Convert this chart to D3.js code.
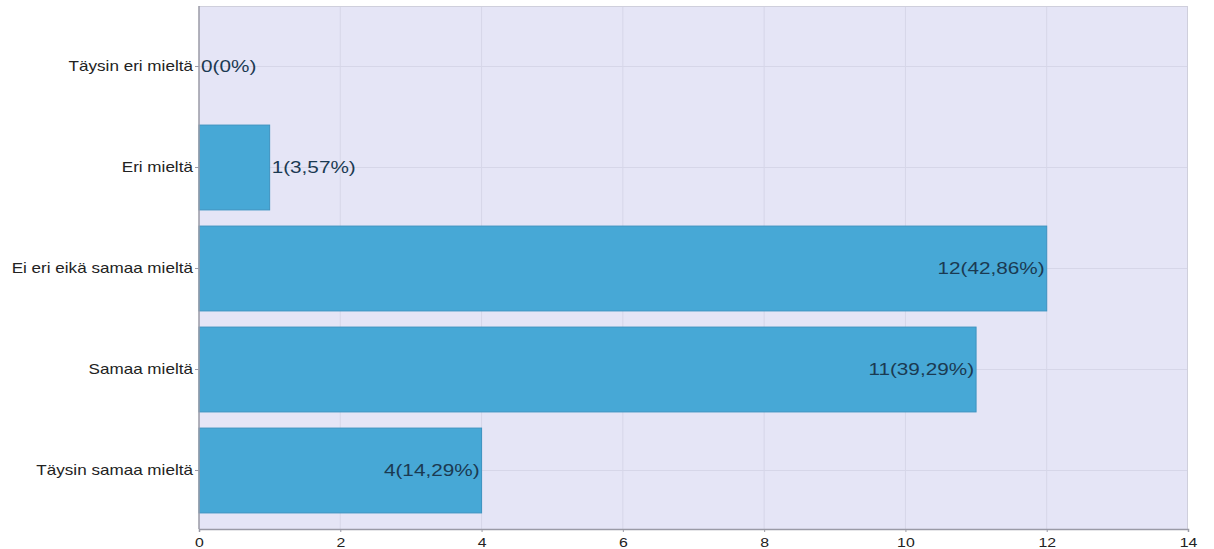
<!DOCTYPE html>
<html>
<head>
<meta charset="utf-8">
<script src="https://cdn.jsdelivr.net/npm/d3@7"></script>
<style>
  html, body { margin: 0; padding: 0; background: #ffffff; }
  svg { display: block; }
  text { font-family: "Liberation Sans", Arial, sans-serif; }
</style>
</head>
<body>
<svg id="chart" width="1214" height="549"></svg>
<script>
// Survey answers and counts
const categories = ["Täysin eri mieltä", "Eri mieltä", "Ei eri eikä samaa mieltä", "Samaa mieltä", "Täysin samaa mieltä"];
const counts = [0, 1, 12, 11, 4];
const percentLabels = ["0%", "3,57%", "42,86%", "39,29%", "14,29%"];
const xTicks = [0, 2, 4, 6, 8, 10, 12, 14];

const svg = d3.select("#chart");
const plotLeft = 199, plotRight = 1188, plotTop = 6, plotBottom = 529;
const stretch = 1.22; // wide lettering

const x = d3.scaleLinear().domain([0, 14]).range([plotLeft, plotRight]);
const y = d3.scaleBand().domain(categories).range([plotTop + 10, plotBottom - 8]).paddingInner(0.16).paddingOuter(0.08);

// plot background
svg.append("rect")
  .attr("x", plotLeft).attr("y", plotTop)
  .attr("width", plotRight - plotLeft).attr("height", plotBottom - plotTop)
  .attr("fill", "#e5e5f6");

// grid lines
const grid = svg.append("g");
grid.selectAll("line.v").data(xTicks.slice(1, -1)).join("line")
  .attr("class", "v")
  .attr("x1", d => x(d)).attr("x2", d => x(d))
  .attr("y1", plotTop).attr("y2", plotBottom)
  .attr("stroke", "#d6d6e8").attr("stroke-width", 1);
grid.selectAll("line.h").data(categories).join("line")
  .attr("class", "h")
  .attr("x1", plotLeft).attr("x2", plotRight)
  .attr("y1", d => y(d) + y.bandwidth() / 2).attr("y2", d => y(d) + y.bandwidth() / 2)
  .attr("stroke", "#d6d6e8").attr("stroke-width", 1);

// frame: top and right edges
svg.append("line").attr("x1", plotLeft).attr("x2", plotRight).attr("y1", plotTop + 0.5).attr("y2", plotTop + 0.5)
  .attr("stroke", "#cfcfdc");
svg.append("line").attr("x1", plotRight - 0.5).attr("x2", plotRight - 0.5).attr("y1", plotTop).attr("y2", plotBottom)
  .attr("stroke", "#cfcfdc");

// bars
svg.append("g").selectAll("rect").data(counts).join("rect")
  .attr("x", x(0))
  .attr("y", (d, i) => y(categories[i]))
  .attr("width", d => x(d) - x(0))
  .attr("height", y.bandwidth())
  .attr("fill", "#47a8d6")
  .attr("stroke", d => d > 0 ? "#3d93c0" : "none")
  .attr("stroke-width", 1);

// value labels: inside end when wide enough, else outside
const inside = d => (x(d) - x(0) > 150);
svg.append("g").selectAll("g").data(counts).join("g")
  .attr("transform", (d, i) => `translate(${inside(d) ? x(d) - 2 : x(d) + 2},${y(categories[i]) + y.bandwidth() / 2})`)
  .append("text")
  .attr("transform", `scale(${stretch},1)`)
  .attr("dy", "0.35em")
  .attr("text-anchor", d => inside(d) ? "end" : "start")
  .attr("font-size", 17)
  .attr("fill", "#1b3a52")
  .text((d, i) => `${d}(${percentLabels[i]})`);

// x axis
const xAxis = svg.append("g").attr("transform", `translate(0,${plotBottom})`)
  .call(d3.axisBottom(x).tickValues(xTicks).tickSize(3).tickFormat(d3.format("d")));
xAxis.select(".domain").attr("stroke", "#9a9aa6").attr("stroke-width", 1.5);
xAxis.selectAll(".tick line").attr("stroke", "#9a9aa6");
xAxis.selectAll("text").attr("font-size", 13).attr("fill", "#222").attr("dy", "0.9em")
  .attr("transform", `scale(${stretch},1)`);

// y axis
const yAxis = svg.append("g").attr("transform", `translate(${plotLeft},0)`)
  .call(d3.axisLeft(y).tickSize(4).tickPadding(1));
yAxis.select(".domain").attr("stroke", "#9a9aa6").attr("stroke-width", 1.5)
  .attr("d", `M0,${plotTop}V${plotBottom}`);
yAxis.selectAll(".tick line").attr("stroke", "#9a9aa6");
yAxis.selectAll("text").attr("font-size", 14).attr("fill", "#222")
  .attr("transform", `scale(${stretch},1)`);
</script>
</body>
</html>
